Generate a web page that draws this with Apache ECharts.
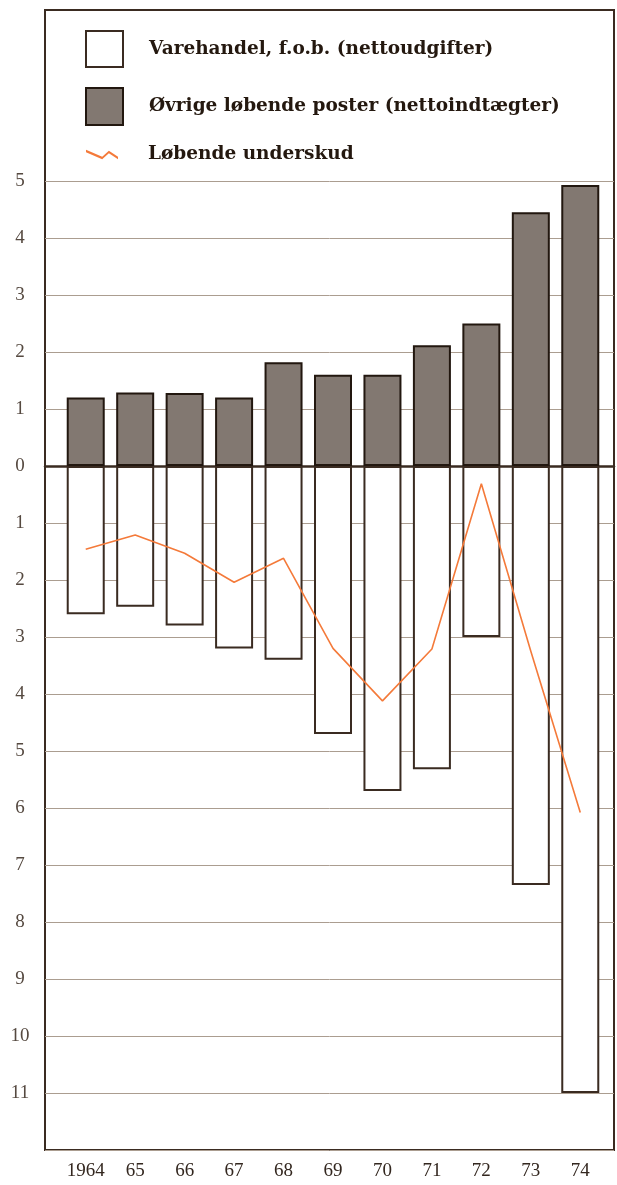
<!DOCTYPE html>
<html>
<head>
<meta charset="utf-8">
<script src="https://cdn.jsdelivr.net/npm/echarts@6/dist/echarts.min.js"></script>
<style>
html,body{margin:0;padding:0;background:#fff;}
#chart{width:617px;height:1185px;}
</style>
</head>
<body>
<div id="chart"></div>
<script>
const years = ['1964','65','66','67','68','69','70','71','72','73','74'];
const varehandel = [-2.6, -2.47, -2.8, -3.2, -3.4, -4.7, -5.7, -5.32, -3.0, -7.35, -11.0];
const ovrige = [1.2, 1.29, 1.28, 1.2, 1.82, 1.6, 1.6, 2.12, 2.5, 4.45, 4.93];
const underskud = [-1.46, -1.21, -1.53, -2.04, -1.62, -3.2, -4.12, -3.21, -0.31, -3.25, -6.08];
const seriesNames = ['Varehandel, f.o.b. (nettoudgifter)', 'Øvrige løbende poster (nettoindtægter)', 'Løbende underskud'];

const dark = '#3a2b21';
const font = 'Liberation Serif';
const legendText = {color: '#24180f', fontFamily: 'DejaVu Serif', fontWeight: 'bold', fontSize: 18.5};

const chart = echarts.init(document.getElementById('chart'), null, {renderer: 'canvas'});
chart.setOption({
  backgroundColor: '#fff',
  animation: false,
  legend: [
    {selectedMode: false, orient: 'vertical', left: 85, top: 30, padding: 0, itemWidth: 37, itemHeight: 36,
     textStyle: Object.assign({padding: [0,0,0,21]}, legendText),
     data: [{name: seriesNames[0], icon: 'rect', itemStyle: {color: '#fff', borderColor: dark, borderWidth: 2}}]},
    {selectedMode: false, orient: 'vertical', left: 85, top: 87, padding: 0, itemWidth: 37, itemHeight: 37,
     textStyle: Object.assign({padding: [0,0,0,21]}, legendText),
     data: [{name: seriesNames[1], icon: 'rect', itemStyle: {color: '#827871', borderColor: '#22170f', borderWidth: 2}}]},
    {selectedMode: false, orient: 'vertical', left: 86, top: 145, padding: 0, itemWidth: 32, itemHeight: 37,
     textStyle: Object.assign({padding: [0,0,0,25]}, legendText),
     data: [{name: seriesNames[2], icon: 'path://M0,0 L16,7 L22.6,1 L31.6,7 L31.6,9.6 L22.6,3.6 L16,9.6 L0,2.6 Z', itemStyle: {color: '#f47a3a', borderWidth: 0}}]}
  ],
  grid: [
    {left: 45, right: 3, top: 181, bottom: 35, show: false},
    {left: 45, right: 3, top: 10, bottom: 35, show: true, borderColor: dark, borderWidth: 2, backgroundColor: 'transparent'},
    {left: 61, right: 12, top: 181, bottom: 35, show: false}
  ],
  xAxis: [
    {gridIndex: 0, type: 'value', min: 0, max: 1,
     axisLine: {show: true, onZero: true, lineStyle: {color: dark, width: 2.5}},
     axisTick: {show: false}, axisLabel: {show: false}, splitLine: {show: false}},
    {gridIndex: 1, type: 'value', min: 0, max: 1, show: false},
    {gridIndex: 2, type: 'category', data: years, boundaryGap: true,
     axisLine: {show: false, onZero: false}, axisTick: {show: false},
     axisLabel: {interval: 0, hideOverlap: false, margin: 12, color: '#33271f', fontFamily: font, fontSize: 19}}
  ],
  yAxis: [
    {gridIndex: 0, type: 'value', min: -12, max: 5, interval: 1,
     axisLine: {show: false}, axisTick: {show: false},
     splitLine: {show: true, lineStyle: {color: '#ab9d90', width: 1}},
     axisLabel: {margin: 25, align: 'center', color: '#554940', fontFamily: font, fontSize: 19,
       formatter: v => (v === -12 ? '' : String(Math.abs(v)))}},
    {gridIndex: 1, type: 'value', min: 0, max: 1, show: false},
    {gridIndex: 2, type: 'value', min: -12, max: 5, show: false}
  ],
  series: [
    {name: seriesNames[0], type: 'bar', xAxisIndex: 2, yAxisIndex: 2, data: varehandel,
     barWidth: 38, barGap: '-100%', z: 3,
     itemStyle: {color: '#fff', borderColor: dark, borderWidth: 2}},
    {name: seriesNames[1], type: 'bar', xAxisIndex: 2, yAxisIndex: 2, data: ovrige,
     barWidth: 38, barGap: '-100%', z: 3,
     itemStyle: {color: '#827871', borderColor: '#22170f', borderWidth: 2}},
    {name: seriesNames[2], type: 'line', xAxisIndex: 2, yAxisIndex: 2, data: underskud,
     symbol: 'none', z: 5, lineStyle: {color: '#f47a3a', width: 1.6}, itemStyle: {color: '#f47a3a'}}
  ]
});
</script>
</body>
</html>
